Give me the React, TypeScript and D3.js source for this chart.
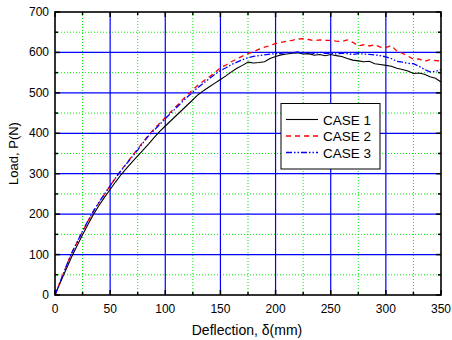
import React from "react";
import * as d3 from "d3";

const deflection = [0,5,10,15,20,25,30,35,40,45,50,55,60,65,70,75,80,85,90,95,100,105,110,115,120,125,130,135,140,145,150,155,160,165,170,175,180,185,190,195,200,205,210,215,220,225,230,235,240,245,250,255,260,265,270,275,280,285,290,295,300,305,310,315,320,325,330,335,340,345,350];

const case1 = [0,32,63,94,122,149,175,200,222,242,261,280,298,314,329,344,359,374,390,405,418,431,444,457,470,483,496,506,515,524,533,542,552,561,568,576,574,575,577,585,590,594,596,598,599,596,597,593,595,592,595,592,590,585,581,579,577,578,572,570,568,566,561,558,554,548,549,546,540,536,527];

const case2 = [0,35,69,103,130,157,183,208,229,250,270,290,309,326,344,361,379,396,411,425,439,453,467,481,495,508,520,530,540,550,562,569,577,584,591,597,602,608,613,617,622,625,628,630,633,634,632,629,631,630,630,628,627,631,625,616,619,616,619,613,612,617,603,598,591,583,584,578,582,580,579];

const case3 = [0,35,70,103,131,158,184,208,230,250,270,290,308,325,342,359,377,394,408,422,436,450,463,477,490,502,514,525,535,546,555,562,570,576,582,587,590,592,594,596,597,598,600,599,601,598,600,597,600,598,598,596,598,597,595,597,596,595,594,592,589,585,578,576,573,572,566,558,552,553,557];

const seriesNames = ["CASE 1", "CASE 2", "CASE 3"];
const xTicks = [0, 50, 100, 150, 200, 250, 300, 350];
const yTicks = [0, 100, 200, 300, 400, 500, 600, 700];

const W = 452, H = 340;
const m = { left: 55, right: 441, top: 12, bottom: 295 };

export default function App() {
  const x = d3.scaleLinear().domain([0, 350]).range([m.left, m.right]);
  const y = d3.scaleLinear().domain([0, 700]).range([m.bottom, m.top]);
  const all = [case1, case2, case3];
  const colors = ["#000000", "#ff0000", "#0000ff"];
  const dashes = ["none", "5,4", "6,2,1.5,2,1.5,2"];
  const widths = [1.1, 1.3, 1.3];
  const line = d3.line<number>().x((_, i) => x(deflection[i])).y((d) => y(d));
  const xMinor = d3.range(25, 350, 50);
  const yMinor = d3.range(50, 700, 100);
  const font = "'Liberation Sans', Arial, sans-serif";

  return (
    <svg width={W} height={H} style={{ position: "absolute", left: 0, top: 0, background: "#fff" }}>
      {xMinor.map((v) => (
        <line key={"xm" + v} x1={x(v)} x2={x(v)} y1={m.top} y2={m.bottom} stroke="#00ee00" strokeWidth={1} strokeDasharray="1,2" />
      ))}
      {yMinor.map((v) => (
        <line key={"ym" + v} x1={m.left} x2={m.right} y1={y(v)} y2={y(v)} stroke="#00ee00" strokeWidth={1} strokeDasharray="1,2" />
      ))}
      {xTicks.slice(1, -1).map((v) => (
        <line key={"xg" + v} x1={x(v)} x2={x(v)} y1={m.top} y2={m.bottom} stroke="#0000ff" strokeWidth={1.2} />
      ))}
      {yTicks.slice(1, -1).map((v) => (
        <line key={"yg" + v} x1={m.left} x2={m.right} y1={y(v)} y2={y(v)} stroke="#0000ff" strokeWidth={1.2} />
      ))}
      {all.map((s, i) => (
        <path key={i} d={line(s) || ""} fill="none" stroke={colors[i]} strokeWidth={widths[i]} strokeDasharray={dashes[i]} />
      ))}
      <rect x={m.left} y={m.top} width={m.right - m.left} height={m.bottom - m.top} fill="none" stroke="#000" strokeWidth={1.6} />
      {xTicks.map((v) => (
        <g key={"xt" + v}>
          <line x1={x(v)} x2={x(v)} y1={m.bottom} y2={m.bottom - 5} stroke="#000" strokeWidth={1.5} />
          <line x1={x(v)} x2={x(v)} y1={m.top} y2={m.top + 5} stroke="#000" strokeWidth={1.5} />
          <text x={x(v)} y={m.bottom + 18} textAnchor="middle" fontFamily={font} fontSize={12} fill="#000">{v}</text>
        </g>
      ))}
      {xMinor.map((v) => (
        <g key={"xmt" + v}>
          <line x1={x(v)} x2={x(v)} y1={m.bottom} y2={m.bottom - 3} stroke="#000" strokeWidth={1.5} />
          <line x1={x(v)} x2={x(v)} y1={m.top} y2={m.top + 3} stroke="#000" strokeWidth={1.5} />
        </g>
      ))}
      {yTicks.map((v) => (
        <g key={"yt" + v}>
          <line x1={m.left} x2={m.left + 5} y1={y(v)} y2={y(v)} stroke="#000" strokeWidth={1.5} />
          <line x1={m.right} x2={m.right - 5} y1={y(v)} y2={y(v)} stroke="#000" strokeWidth={1.5} />
          <text x={m.left - 6} y={y(v) + 4} textAnchor="end" fontFamily={font} fontSize={12} fill="#000">{v}</text>
        </g>
      ))}
      {yMinor.map((v) => (
        <g key={"ymt" + v}>
          <line x1={m.left} x2={m.left + 3} y1={y(v)} y2={y(v)} stroke="#000" strokeWidth={1.5} />
          <line x1={m.right} x2={m.right - 3} y1={y(v)} y2={y(v)} stroke="#000" strokeWidth={1.5} />
        </g>
      ))}
      <text x={247} y={335} textAnchor="middle" fontFamily={font} fontSize={14} fill="#000">Deflection, δ(mm)</text>
      <text transform={`translate(18,${(m.top + m.bottom) / 2}) rotate(-90)`} textAnchor="middle" fontFamily={font} fontSize={13} fill="#000">Load, P(N)</text>
      <rect x={281} y={103.5} width={99} height={65.5} fill="#fff" stroke="#000" strokeWidth={1} />
      {seriesNames.map((n, i) => {
        const ly = 119.5 + i * 16.5;
        return (
          <g key={n}>
            <line x1={286} x2={318} y1={ly} y2={ly} stroke={colors[i]} strokeWidth={widths[i]} strokeDasharray={dashes[i]} />
            <text x={323} y={ly + 5} fontFamily={font} fontSize={13.5} fill="#000">{n}</text>
          </g>
        );
      })}
    </svg>
  );
}
